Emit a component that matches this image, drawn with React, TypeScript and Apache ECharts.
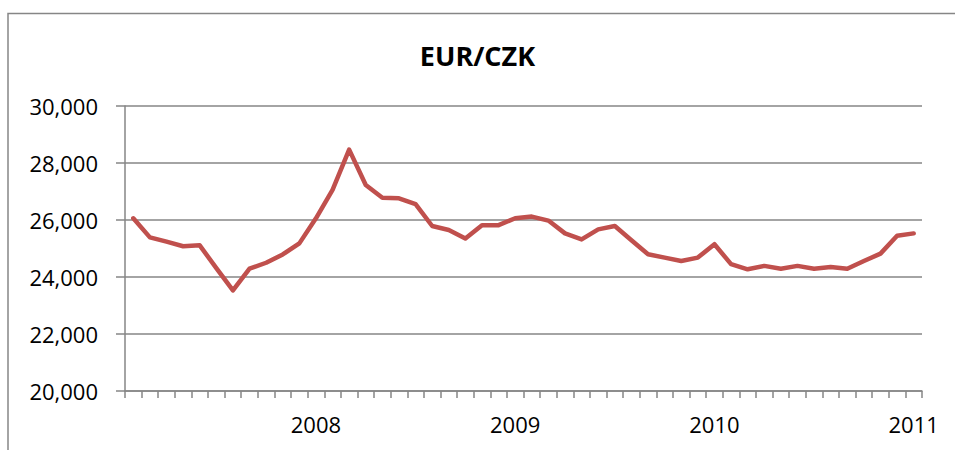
import React, { useEffect, useRef } from "react";
import * as echarts from "echarts";

const months: string[] = [
  "2007-02", "2007-03", "2007-04", "2007-05", "2007-06", "2007-07", "2007-08", "2007-09", "2007-10", "2007-11", "2007-12",
  "2008-01", "2008-02", "2008-03", "2008-04", "2008-05", "2008-06", "2008-07", "2008-08", "2008-09", "2008-10", "2008-11", "2008-12",
  "2009-01", "2009-02", "2009-03", "2009-04", "2009-05", "2009-06", "2009-07", "2009-08", "2009-09", "2009-10", "2009-11", "2009-12",
  "2010-01", "2010-02", "2010-03", "2010-04", "2010-05", "2010-06", "2010-07", "2010-08", "2010-09", "2010-10", "2010-11", "2010-12",
  "2011-01",
];

const eurCzk: number[] = [
  26060, 25390, 25240, 25080, 25110, 24310, 23530, 24290, 24500, 24790, 25180,
  26060, 27060, 28470, 27230, 26780, 26760, 26560, 25790, 25650, 25350, 25820, 25820,
  26060, 26120, 25980, 25530, 25320, 25670, 25790, 25290, 24800, 24680, 24560, 24680,
  25150, 24450, 24270, 24390, 24290, 24390, 24290, 24350, 24290, 24560, 24820, 25450,
  25530,
];

const title = "EUR/CZK";
const yMin = 20000;
const yMax = 30000;
const yStep = 2000;

export default function App() {
  const ref = useRef<HTMLDivElement>(null);
  useEffect(() => {
    if (!ref.current) return;
    const chart = echarts.init(ref.current, null, { renderer: "svg" });
    const gray = "#868686";
    const font = "'Open Sans', 'Noto Sans', sans-serif";
    chart.setOption({
      animation: false,
      backgroundColor: "#ffffff",
      title: {
        text: title,
        left: "center",
        top: 37,
        textStyle: { fontFamily: font, fontWeight: "bold", fontSize: 27, color: "#000000" },
      },
      graphic: [
        {
          type: "rect",
          shape: { x: 8, y: 13.5, width: 1000, height: 500 },
          style: { fill: "none", stroke: gray, lineWidth: 1.5 },
          silent: true,
        },
      ],
      grid: { left: 125, right: 33, top: 106, bottom: 59 },
      xAxis: {
        type: "category",
        data: months,
        boundaryGap: true,
        axisLine: { show: true, lineStyle: { color: gray, width: 1.5 } },
        axisTick: { show: true, interval: 0, length: 7, inside: false, lineStyle: { color: gray, width: 1.5 } },
        axisLabel: {
          interval: (index: number) => index % 12 === 11,
          formatter: (v: string) => v.slice(0, 4),
          fontFamily: font,
          fontSize: 22,
          color: "#000000",
          margin: 22,
        },
        splitLine: { show: false },
      },
      yAxis: {
        type: "value",
        min: yMin,
        max: yMax,
        interval: yStep,
        axisLine: { show: true, lineStyle: { color: gray, width: 1.5 } },
        axisTick: { show: true, length: 9, lineStyle: { color: gray, width: 1.5 } },
        axisLabel: {
          fontFamily: font,
          fontSize: 22,
          color: "#000000",
          margin: 27,
          formatter: (v: number) => v.toLocaleString("en-US"),
        },
        splitLine: { show: true, lineStyle: { color: gray, width: 1.5 } },
      },
      series: [
        {
          type: "line",
          data: eurCzk,
          symbol: "none",
          lineStyle: { color: "#C0504D", width: 4.5, cap: "round", join: "round" },
          itemStyle: { color: "#C0504D" },
        },
      ],
    });
    return () => chart.dispose();
  }, []);
  return (
    <div
      ref={ref}
      style={{ position: "fixed", left: 0, top: 0, width: 955, height: 450, background: "#fff" }}
    />
  );
}
